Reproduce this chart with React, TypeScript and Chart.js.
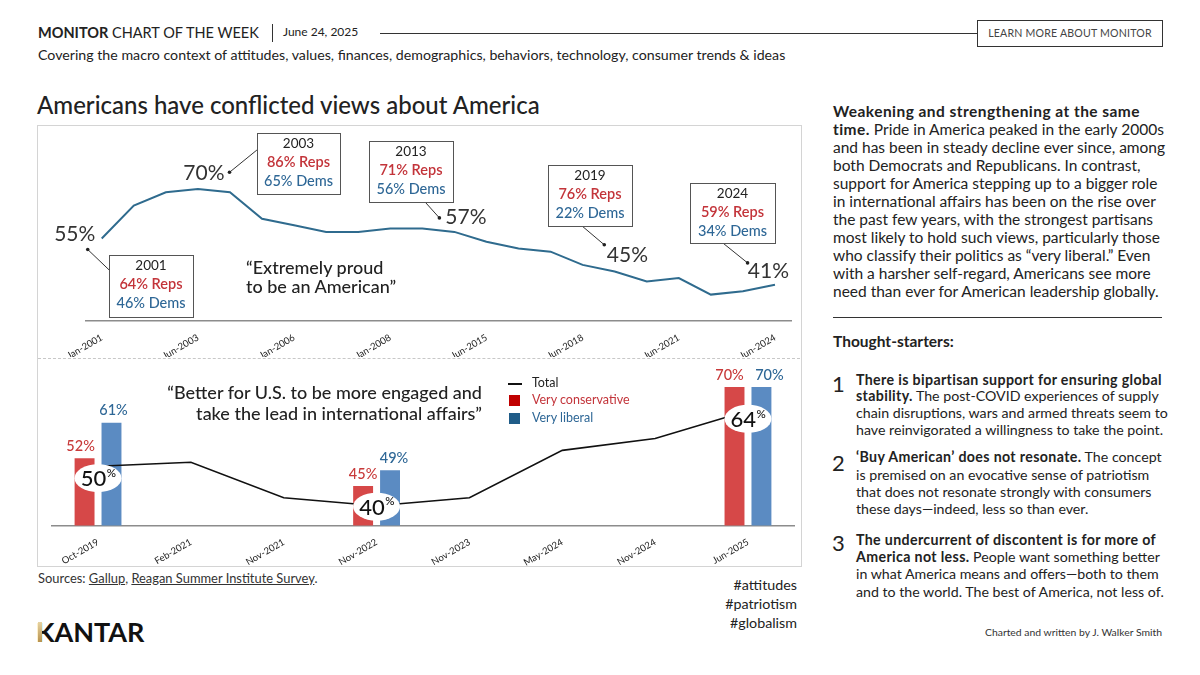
import React, { useEffect, useRef } from "react";
import { Chart, registerables } from "chart.js";

Chart.register(...registerables);

const FONT = "Lato, 'Noto Sans', sans-serif";

// ---------- Top chart data: "Extremely proud to be an American" (Gallup) ----------
const PRIDE_DATES = [
  "Jan-2001", "Jan-2002", "Jan-2003", "Jun-2003", "Jan-2004", "Jan-2005",
  "Jan-2006", "Jun-2006", "Jun-2007", "Jan-2008", "Jun-2012", "Jun-2013",
  "Jun-2015", "Jun-2016", "Jun-2017", "Jun-2018", "Jun-2019", "Jun-2020",
  "Jun-2021", "Jun-2022", "Jun-2023", "Jun-2024",
];
const PRIDE_TICKS = ["Jan-2001", "Jun-2003", "Jan-2006", "Jan-2008", "Jun-2015", "Jun-2018", "Jun-2021", "Jun-2024"];
const PRIDE_EXTREMELY = [55, 65, 69, 70, 69, 61, 59, 57, 57, 58, 58, 57, 54, 52, 51, 47, 45, 42, 43, 38, 39, 41];

const CALLOUT_INDEX = [0, 3, 11, 16, 21];
const CALLOUT_YEARS = ["2001", "2003", "2013", "2019", "2024"];
const CALLOUT_REPS = [64, 86, 71, 76, 59];
const CALLOUT_DEMS = [46, 65, 56, 22, 34];

// ---------- Bottom chart data: "Better for U.S. to be more engaged..." ----------
const ENGAGE_DATES = ["Oct-2019", "Feb-2021", "Nov-2021", "Nov-2022", "Nov-2023", "May-2024", "Nov-2024", "Jun-2025"];
const ENGAGE_TOTAL = [50, 51, 42, 40, 42, 54, 57, 64];
const ENGAGE_VERY_CONSERVATIVE = [52, null, null, 45, null, null, null, 70];
const ENGAGE_VERY_LIBERAL = [61, null, null, 49, null, null, null, 70];
const BUBBLE_INDEX = [0, 3, 7];

// ---------- Styling / layout (not data) ----------
const COLORS = {
  prideLine: "#2f6b8e",
  reps: "#c3343a",
  dems: "#2e6796",
  barRed: "#d64848",
  barBlue: "#5b8bc2",
  labelRed: "#c83a3a",
  labelBlue: "#2e6796",
  legendRed: "#c00000",
  legendBlue: "#1f5c88",
  text: "#222",
};

// offsets relative to the data point pixel
const CALLOUT_LAYOUT = [
  { label: [-27, -4], dot: [-14, 11], end: [8, 32], box: [7, 16, 84, 62] },
  { label: [6, -16], dot: [31.6, -16.7], end: [59, -39], box: [59, -55.7, 83, 61] },
  { label: [11.5, -15], dot: [-15, -14], end: [-28.5, -29], box: [-85.5, -91, 84, 61] },
  { label: [12.7, -16.6], dot: [-10.4, -26.7], end: [-33.2, -46], box: [-66.7, -107, 84, 61] },
  { label: [-6.6, -13], dot: [-27.4, -21.8], end: [-52.5, -42], box: [-84.7, -102, 85, 60] },
];
const BUBBLE_DY = [12, 1, 8];
// horizontal nudges for bar value labels [red, blue] per bar group
const BAR_LABEL_DX: Record<number, [number, number]> = { 0: [-4, 2], 3: [0, 4], 7: [-5, 8] };

const prideCallouts = {
  id: "prideCallouts",
  afterDatasetsDraw(chart: any) {
    const ctx = chart.ctx as CanvasRenderingContext2D;
    const meta = chart.getDatasetMeta(0);
    CALLOUT_INDEX.forEach((idx, i) => {
      const pt = meta.data[idx];
      const px = pt.x;
      const py = pt.y;
      const L = CALLOUT_LAYOUT[i];
      ctx.save();
      ctx.textAlign = "center";
      ctx.textBaseline = "middle";
      ctx.font = `400 21px ${FONT}`;
      ctx.fillStyle = "#333";
      ctx.fillText(PRIDE_EXTREMELY[idx] + "%", px + L.label[0], py + L.label[1]);
      ctx.strokeStyle = "#333";
      ctx.lineWidth = 1;
      ctx.beginPath();
      ctx.moveTo(px + L.dot[0], py + L.dot[1]);
      ctx.lineTo(px + L.end[0], py + L.end[1]);
      ctx.stroke();
      ctx.beginPath();
      ctx.arc(px + L.dot[0], py + L.dot[1], 1.8, 0, Math.PI * 2);
      ctx.fillStyle = "#222";
      ctx.fill();
      const [bx, by, bw, bh] = L.box;
      const x0 = Math.round(px + bx);
      const y0 = Math.round(py + by);
      ctx.fillStyle = "#fff";
      ctx.fillRect(x0, y0, bw, bh);
      ctx.strokeStyle = "#555";
      ctx.strokeRect(x0 + 0.5, y0 + 0.5, bw, bh);
      const cx = x0 + bw / 2;
      ctx.fillStyle = "#222";
      ctx.font = `400 13.5px ${FONT}`;
      ctx.fillText(CALLOUT_YEARS[i], cx, y0 + 11);
      ctx.fillStyle = COLORS.reps;
      ctx.font = `600 14.5px ${FONT}`;
      ctx.fillText(`${CALLOUT_REPS[i]}% Reps`, cx, y0 + 29);
      ctx.fillStyle = COLORS.dems;
      ctx.font = `500 14.5px ${FONT}`;
      ctx.fillText(`${CALLOUT_DEMS[i]}% Dems`, cx, y0 + 48.5);
      ctx.restore();
    });
  },
};

const engageLabels = {
  id: "engageLabels",
  afterDatasetsDraw(chart: any) {
    const ctx = chart.ctx as CanvasRenderingContext2D;
    ctx.save();
    ctx.textAlign = "center";
    ctx.textBaseline = "middle";
    ctx.font = `500 14.5px ${FONT}`;
    [1, 2].forEach((di) => {
      const meta = chart.getDatasetMeta(di);
      const ds = chart.data.datasets[di];
      ctx.fillStyle = di === 1 ? COLORS.labelRed : COLORS.labelBlue;
      meta.data.forEach((bar: any, i: number) => {
        const v = ds.data[i];
        if (v == null) return;
        const dx = BAR_LABEL_DX[i] ? BAR_LABEL_DX[i][di - 1] : 0;
        ctx.fillText(v + "%", bar.x + dx, bar.y - 12);
      });
    });
    const lm = chart.getDatasetMeta(0);
    BUBBLE_INDEX.forEach((idx, k) => {
      const p = lm.data[idx];
      const cx = p.x;
      const cy = p.y + BUBBLE_DY[k];
      ctx.beginPath();
      ctx.ellipse(cx, cy, 23.5, 14, 0, 0, Math.PI * 2);
      ctx.fillStyle = "#fff";
      ctx.fill();
      const num = String(ENGAGE_TOTAL[idx]);
      ctx.font = `500 22px ${FONT}`;
      const w1 = ctx.measureText(num).width;
      ctx.font = `500 11.5px ${FONT}`;
      const w2 = ctx.measureText("%").width;
      const sx = cx - (w1 + w2) / 2;
      ctx.textAlign = "left";
      ctx.fillStyle = "#111";
      ctx.font = `500 22px ${FONT}`;
      ctx.fillText(num, sx, cy + 1);
      ctx.font = `500 11.5px ${FONT}`;
      ctx.fillText("%", sx + w1 + 0.5, cy - 5);
      ctx.textAlign = "center";
    });
    ctx.restore();
  },
};

function TopChart() {
  const ref = useRef<HTMLCanvasElement>(null);
  useEffect(() => {
    const chart = new Chart(ref.current as HTMLCanvasElement, {
      type: "line",
      data: {
        labels: PRIDE_DATES,
        datasets: [
          {
            label: "Extremely proud",
            data: PRIDE_EXTREMELY,
            borderColor: COLORS.prideLine,
            borderWidth: 2,
            pointRadius: 0,
            tension: 0,
            fill: false,
          },
        ],
      },
      options: {
        responsive: false,
        animation: false,
        layout: { padding: { left: 48.7, right: 10, top: 13.5, bottom: 0 } },
        plugins: { legend: { display: false }, tooltip: { enabled: false } },
        scales: {
          x: {
            type: "category",
            offset: true,
            grid: { display: false },
            border: { display: true, color: "#8c8c8c", width: 1.5 },
            ticks: {
              autoSkip: false,
              maxRotation: 30,
              minRotation: 30,
              padding: 3,
              color: "#222",
              font: { size: 9.5, family: FONT },
              callback: (_v: any, i: number) => (PRIDE_TICKS.includes(PRIDE_DATES[i]) ? PRIDE_DATES[i] : ""),
            },
            afterFit: (scale: any) => {
              scale.height = 36;
            },
          },
          y: { display: false, min: 30, max: 85 },
        },
      },
      plugins: [prideCallouts],
    } as any);
    return () => chart.destroy();
  }, []);
  return (
    <canvas
      ref={ref}
      width={764}
      height={231}
      style={{ position: "absolute", left: 37, top: 126, width: 764, height: 231 }}
    />
  );
}

function BottomChart() {
  const ref = useRef<HTMLCanvasElement>(null);
  useEffect(() => {
    const chart = new Chart(ref.current as HTMLCanvasElement, {
      type: "bar",
      data: {
        labels: ENGAGE_DATES,
        datasets: [
          {
            type: "line",
            label: "Total",
            data: ENGAGE_TOTAL,
            borderColor: "#111",
            borderWidth: 1.6,
            pointRadius: 0,
            tension: 0,
            order: 0,
          },
          {
            type: "bar",
            label: "Very conservative",
            data: ENGAGE_VERY_CONSERVATIVE,
            backgroundColor: COLORS.barRed,
            categoryPercentage: 0.58,
            barPercentage: 0.74,
            order: 1,
          },
          {
            type: "bar",
            label: "Very liberal",
            data: ENGAGE_VERY_LIBERAL,
            backgroundColor: COLORS.barBlue,
            categoryPercentage: 0.58,
            barPercentage: 0.74,
            order: 1,
          },
        ],
      },
      options: {
        responsive: false,
        animation: false,
        layout: { padding: { left: 14.6, right: 6.6, top: 8.3, bottom: 0 } },
        plugins: { legend: { display: false }, tooltip: { enabled: false } },
        scales: {
          x: {
            type: "category",
            offset: true,
            grid: { display: false },
            border: { display: true, color: "#8c8c8c", width: 1.5 },
            ticks: {
              autoSkip: false,
              maxRotation: 30,
              minRotation: 30,
              padding: 3,
              color: "#222",
              font: { size: 9.5, family: FONT },
            },
            afterFit: (scale: any) => {
              scale.height = 40.5;
            },
          },
          y: { display: false, min: 35, max: 75 },
        },
      },
      plugins: [engageLabels],
    } as any);
    return () => chart.destroy();
  }, []);
  return (
    <canvas
      ref={ref}
      width={764}
      height={207}
      style={{ position: "absolute", left: 37, top: 359, width: 764, height: 207 }}
    />
  );
}

type TProps = {
  x: number;
  y: number;
  size: number;
  weight?: number;
  color?: string;
  align?: "left" | "right";
  lh?: number;
  style?: React.CSSProperties;
  children: React.ReactNode;
};

function T({ x, y, size, weight = 400, color = COLORS.text, align = "left", lh, style, children }: TProps) {
  const lineH = lh ?? Math.round(size * 1.3);
  const pos: React.CSSProperties = align === "right" ? { right: 1200 - x } : { left: x };
  return (
    <div
      style={{
        position: "absolute",
        top: y - lineH / 2,
        ...pos,
        fontSize: size,
        lineHeight: `${lineH}px`,
        fontWeight: weight,
        color,
        whiteSpace: "nowrap",
        fontFamily: FONT,
        textAlign: align,
        ...style,
      }}
    >
      {children}
    </div>
  );
}

function Lines({
  x,
  y0,
  step,
  size,
  boldSpacing,
  lines,
}: {
  x: number;
  y0: number;
  step: number;
  size: number;
  boldSpacing: number;
  lines: React.ReactNode[];
}) {
  return (
    <>
      {lines.map((l, i) => (
        <T key={i} x={x} y={y0 + i * step} size={size} lh={step} style={{ ["--bs" as any]: `${boldSpacing}px` }}>
          {l}
        </T>
      ))}
    </>
  );
}

const B = ({ children }: { children: React.ReactNode }) => (
  <b style={{ letterSpacing: "var(--bs)", fontWeight: 700 }}>{children}</b>
);

const P1 = [
  <B>Weakening and strengthening at the same</B>,
  <><B>time.</B> Pride in America peaked in the early 2000s</>,
  "and has been in steady decline ever since, among",
  "both Democrats and Republicans. In contrast,",
  "support for America stepping up to a bigger role",
  "in international affairs has been on the rise over",
  "the past few years, with the strongest partisans",
  "most likely to hold such views, particularly those",
  "who classify their politics as \u201cvery liberal.\u201d Even",
  "with a harsher self-regard, Americans see more",
  "need than ever for American leadership globally.",
];

const ITEM1 = [
  <B>There is bipartisan support for ensuring global</B>,
  <><B>stability.</B> The post-COVID experiences of supply</>,
  "chain disruptions, wars and armed threats seem to",
  "have reinvigorated a willingness to take the point.",
];
const ITEM2 = [
  <><B>{"\u2018Buy American\u2019 does not resonate."}</B> The concept</>,
  "is premised on an evocative sense of patriotism",
  "that does not resonate strongly with consumers",
  "these days\u2014indeed, less so than ever.",
];
const ITEM3 = [
  <B>The undercurrent of discontent is for more of</B>,
  <><B>America not less.</B> People want something better</>,
  "in what America means and offers\u2014both to them",
  "and to the world. The best of America, not less of.",
];

export default function App() {
  useEffect(() => {
    document.body.style.margin = "0";
  }, []);
  return (
    <div
      style={{
        position: "absolute",
        left: 0,
        top: 0,
        width: 1200,
        height: 675,
        background: "#fff",
        fontFamily: FONT,
        color: COLORS.text,
        overflow: "hidden",
      }}
    >
      {/* Header */}
      <T x={38} y={32} size={14.5}>
        <b>MONITOR</b> CHART OF THE WEEK
      </T>
      <div style={{ position: "absolute", left: 272, top: 24, width: 1, height: 18, background: "#333" }} />
      <T x={283} y={32} size={12}>
        June 24, 2025
      </T>
      <div style={{ position: "absolute", left: 380, top: 33, width: 597, height: 1, background: "#333" }} />
      <div
        style={{
          position: "absolute",
          left: 977,
          top: 20,
          width: 184,
          height: 25,
          border: "1px solid #333",
          fontSize: 10.6,
          lineHeight: "25px",
          textAlign: "center",
          color: "#444",
          letterSpacing: 0.2,
        }}
      >
        LEARN MORE ABOUT MONITOR
      </div>
      <T x={38} y={55} size={14.2}>
        Covering the macro context of attitudes, values, finances, demographics, behaviors, technology, consumer trends &amp; ideas
      </T>

      {/* Title */}
      <T x={37} y={104} size={24} weight={500}>
        Americans have conflicted views about America
      </T>

      {/* Chart frame */}
      <div
        style={{
          position: "absolute",
          left: 37,
          top: 125,
          width: 763,
          height: 440,
          border: "1px solid #d4d4d4",
        }}
      />
      <div style={{ position: "absolute", left: 38, top: 358, width: 762, height: 0, borderTop: "1px dashed #c8c8c8" }} />

      <TopChart />
      <BottomChart />

      {/* Top quote */}
      <T x={246} y={267} size={18} weight={500}>
        {"\u201cExtremely proud"}
      </T>
      <T x={246} y={286} size={18} weight={500}>
        {"to be an American\u201d"}
      </T>

      {/* Bottom quote */}
      <T x={482} y={392} size={18} weight={500} align="right">
        {"\u201cBetter for U.S. to be more engaged and"}
      </T>
      <T x={482} y={413} size={18} weight={500} align="right">
        {"take the lead in international affairs\u201d"}
      </T>

      {/* Legend */}
      <div style={{ position: "absolute", left: 508, top: 383, width: 14, height: 2, background: "#111" }} />
      <T x={532} y={383} size={12.5}>
        Total
      </T>
      <div style={{ position: "absolute", left: 509, top: 395, width: 11, height: 11, background: COLORS.legendRed }} />
      <T x={532} y={400} size={12.5} color={COLORS.reps}>
        Very conservative
      </T>
      <div style={{ position: "absolute", left: 509, top: 413, width: 11, height: 11, background: COLORS.legendBlue }} />
      <T x={532} y={418} size={12.5} color={COLORS.dems}>
        Very liberal
      </T>

      {/* Sources */}
      <T x={38} y={578} size={12.9} color="#333">
        Sources: <span style={{ textDecoration: "underline" }}>Gallup</span>,{" "}
        <span style={{ textDecoration: "underline" }}>Reagan Summer Institute Survey</span>.
      </T>
      <T x={797} y={584} size={14.3} align="right">
        #attitudes
      </T>
      <T x={797} y={603} size={14.3} align="right">
        #patriotism
      </T>
      <T x={797} y={622} size={14.3} align="right">
        #globalism
      </T>

      {/* Logo */}
      <T x={36} y={631} size={27} weight={700} color="#111">
        KANTAR
      </T>
      <div
        style={{
          position: "absolute",
          left: 38,
          top: 621.5,
          width: 4,
          height: 20,
          background: "linear-gradient(to bottom, #e6d3a3, #b8924e)",
        }}
      />

      {/* Right column */}
      <Lines x={833} y0={110.5} step={18} size={15.5} boldSpacing={0.45} lines={P1} />
      <div style={{ position: "absolute", left: 833, top: 317, width: 329, height: 1, background: "#333" }} />
      <T x={833} y={341} size={15.5} weight={700}>
        Thought-starters:
      </T>

      <T x={832} y={383} size={22} weight={400} color="#222">
        1
      </T>
      <Lines x={856} y0={380} step={16.7} size={14.2} boldSpacing={0.36} lines={ITEM1} />
      <T x={832} y={462} size={22} weight={400} color="#222">
        2
      </T>
      <Lines x={856} y0={457} step={17.2} size={14.2} boldSpacing={0.36} lines={ITEM2} />
      <T x={832} y={542} size={22} weight={400} color="#222">
        3
      </T>
      <Lines x={856} y0={539.5} step={17.2} size={14.2} boldSpacing={0.36} lines={ITEM3} />

      <T x={1162} y={632} size={10.4} align="right" color="#333">
        Charted and written by J. Walker Smith
      </T>
    </div>
  );
}
